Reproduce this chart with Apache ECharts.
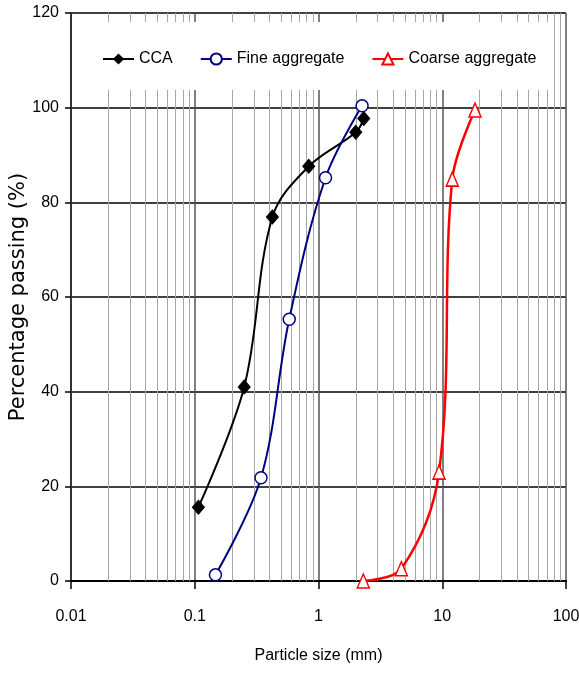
<!DOCTYPE html>
<html>
<head>
<meta charset="utf-8">
<script src="https://cdn.jsdelivr.net/npm/echarts@6/dist/echarts.min.js"></script>
<style>
html,body{margin:0;padding:0;background:#fff;}
#chart{width:579px;height:673px;}
</style>
</head>
<body>
<div id="chart"></div>
<script>
// ---- data ----
var ccaSize    = [0.107, 0.251, 0.424, 0.834, 2.0, 2.32];
var ccaPass    = [15.6, 41.0, 76.9, 87.6, 94.8, 97.7];
var fineSize   = [0.147, 0.343, 0.58, 1.14, 2.25];
var finePass   = [1.3, 21.8, 55.3, 85.2, 100.4];
var coarseSize = [2.30, 4.67, 9.42, 12.05, 18.4];
var coarsePass = [0.0, 2.6, 23.0, 84.9, 99.5];
var seriesNames = ['CCA', 'Fine aggregate', 'Coarse aggregate'];
var minorGrid = [0.02,0.03,0.04,0.05,0.06,0.07,0.08,0.09,
                 0.2,0.3,0.4,0.5,0.6,0.7,0.8,0.9,
                 2,3,4,5,6,7,8,9,
                 20,30,40,50,60,70,80,90];

function pairs(xs, ys){ return xs.map(function(x,i){ return [x, ys[i]]; }); }

var sans = "'Liberation Sans',Arial,sans-serif";

var chart = echarts.init(document.getElementById('chart'), null, {renderer:'canvas'});
chart.setOption({
  animation: false,
  backgroundColor: '#fff',
  grid: {left: 71, right: 13, top: 13, bottom: 92, containLabel: false, outerBoundsMode: 'none'},
  legend: {
    data: seriesNames,
    left: 80, top: 22,
    padding: [29, 17, 23, 22],
    backgroundColor: '#fff',
    itemGap: 27,
    itemWidth: 31, itemHeight: 14,
    z: 10,
    textStyle: {fontFamily: sans, fontSize: 16, color: '#000'}
  },
  xAxis: {
    type: 'log', logBase: 10, min: 0.01, max: 100,
    name: 'Particle size (mm)', nameLocation: 'middle', nameGap: 67, nameMoveOverlap: false,
    nameTextStyle: {fontFamily: sans, fontSize: 16, color: '#000'},
    axisLine: {show: true, onZero: false, lineStyle: {color: '#000', width: 2}},
    axisTick: {show: true, inside: false, length: 8, lineStyle: {color: '#000', width: 1.5}},
    axisLabel: {margin: 28, fontFamily: sans, fontSize: 16, color: '#000',
      formatter: function(v){ return String(v); }},
    splitLine: {show: true, lineStyle: {color: '#555', width: 1.5}}
  },
  yAxis: {
    type: 'value', min: 0, max: 120, interval: 20,
    name: 'Percentage passing (%)', nameLocation: 'middle', nameGap: 42, nameRotate: 90,
    nameMoveOverlap: false,
    nameTextStyle: {fontFamily: "'DejaVu Sans',sans-serif", fontSize: 21, color: '#000'},
    axisLine: {show: true, lineStyle: {color: '#333', width: 2}},
    axisTick: {show: true, inside: false, length: 6, lineStyle: {color: '#000', width: 1.5}},
    axisLabel: {margin: 12, fontFamily: sans, fontSize: 16, color: '#000'},
    splitLine: {show: true, lineStyle: {color: '#000', width: 1.5}}
  },
  series: [
    {
      name: 'minor-grid', type: 'line', data: [], z: 1, silent: true,
      markLine: {
        silent: true, symbol: ['none','none'], animation: false,
        label: {show: false},
        lineStyle: {color: '#a6a6a6', width: 1, type: 'solid'},
        data: minorGrid.map(function(v){ return {xAxis: v}; })
      }
    },
    {
      name: seriesNames[0], type: 'line', data: pairs(ccaSize, ccaPass),
      smooth: 0.35, z: 5,
      symbol: 'diamond', symbolSize: [12, 14],
      lineStyle: {color: '#000', width: 2},
      itemStyle: {color: '#000', borderColor: '#000'}
    },
    {
      name: seriesNames[1], type: 'line', data: pairs(fineSize, finePass),
      smooth: 0.35, z: 5,
      symbol: 'circle', symbolSize: 12,
      lineStyle: {color: '#000080', width: 2},
      itemStyle: {color: '#fff', borderColor: '#000080', borderWidth: 1.5}
    },
    {
      name: seriesNames[2], type: 'line', data: pairs(coarseSize, coarsePass),
      smooth: 0.35, z: 5,
      symbol: 'triangle', symbolSize: [12, 14],
      lineStyle: {color: '#ff0000', width: 2.5},
      itemStyle: {color: '#fff', borderColor: '#ff0000', borderWidth: 1.5}
    }
  ]
});
</script>
</body>
</html>
